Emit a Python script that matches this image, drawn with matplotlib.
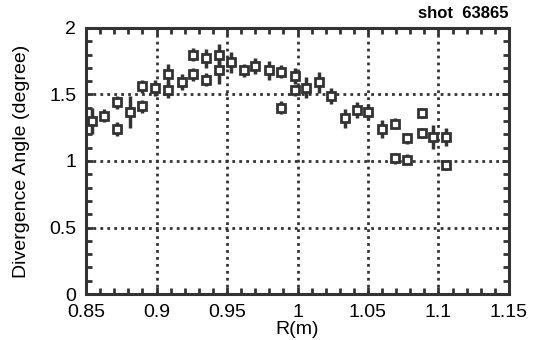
import matplotlib
matplotlib.use("Agg")
import matplotlib.pyplot as plt
from matplotlib.ticker import MultipleLocator

plt.rcParams['font.family'] = ['Liberation Sans', 'DejaVu Sans']

# measured divergence angle vs major radius
r_m = [0.854, 0.863, 0.872, 0.872, 0.881, 0.890, 0.890, 0.899, 0.908, 0.908,
       0.918, 0.926, 0.926, 0.935, 0.935, 0.944, 0.944, 0.953, 0.962, 0.970,
       0.980, 0.988, 0.988, 0.998, 0.998, 1.006, 1.015, 1.024, 1.034, 1.042,
       1.050, 1.060, 1.069, 1.069, 1.078, 1.078, 1.088, 1.088, 1.096, 1.105,
       1.105]
angle = [1.30, 1.34, 1.44, 1.24, 1.37, 1.41, 1.56, 1.55, 1.65, 1.53,
         1.59, 1.80, 1.65, 1.77, 1.61, 1.80, 1.68, 1.74, 1.68, 1.71,
         1.68, 1.67, 1.40, 1.64, 1.53, 1.55, 1.59, 1.49, 1.32, 1.38,
         1.37, 1.24, 1.28, 1.02, 1.17, 1.01, 1.36, 1.21, 1.18, 1.18,
         0.97]
err = [0.10, 0.05, 0.05, 0.05, 0.12, 0.05, 0.05, 0.06, 0.08, 0.06,
       0.06, 0.05, 0.05, 0.07, 0.05, 0.08, 0.10, 0.08, 0.05, 0.06,
       0.07, 0.05, 0.05, 0.06, 0.04, 0.08, 0.08, 0.06, 0.07, 0.06,
       0.06, 0.07, 0.04, 0.04, 0.04, 0.04, 0.04, 0.04, 0.09, 0.07,
       0.04]

ink = '#333333'

fig = plt.figure(figsize=(5.38, 3.4), dpi=100)
ax = fig.add_axes([0.160, 0.135, 0.786, 0.783])

ax.errorbar(r_m, angle, yerr=err, fmt='none', ecolor=ink, elinewidth=2.5,
            capsize=0, zorder=3)
ax.plot(r_m, angle, 's', ms=5.5, mfc='white', mec=ink, mew=2, zorder=4)

ax.set_xlim(0.85, 1.15)
ax.set_ylim(0, 2)
ax.xaxis.set_minor_locator(MultipleLocator(0.01))
ax.yaxis.set_minor_locator(MultipleLocator(0.1))
ax.set_xticks([0.85, 0.9, 0.95, 1.0, 1.05, 1.1, 1.15])
ax.set_xticklabels(['0.85', '0.9', '0.95', '1', '1.05', '1.1', '1.15'])
ax.set_yticks([0, 0.5, 1, 1.5, 2])
ax.set_yticklabels(['0', '0.5', '1', '1.5', '2'])

ax.grid(True, which='major', linestyle=(0, (1, 1.5)), color=ink, linewidth=2)
ax.tick_params(which='both', direction='in', top=True, right=True,
               colors=ink, labelcolor='black', labelsize=14)
ax.tick_params(axis='x', pad=7)
ax.tick_params(axis='y', pad=7)
ax.tick_params(which='major', length=5, width=2)
ax.tick_params(which='minor', length=4, width=2)
for s in ax.spines.values():
    s.set_linewidth(2.2)
    s.set_color(ink)

ax.set_xlabel('R(m)', fontsize=14, labelpad=0)
ax.set_ylabel('Divergence Angle (degree)', fontsize=14, labelpad=14)
ax.text(1.0, 1.025, 'shot  63865', transform=ax.transAxes, ha='right',
        va='bottom', fontsize=12, fontweight='bold')

fig.savefig('out.png', dpi=100)
